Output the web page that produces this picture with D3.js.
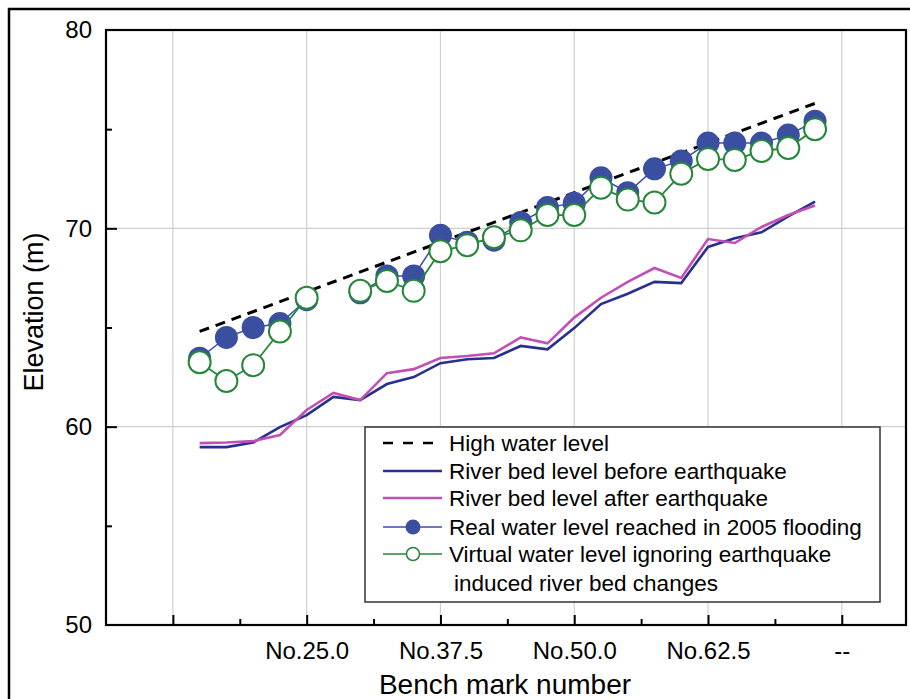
<!DOCTYPE html>
<meta charset="utf-8">
<style>
  body { margin: 0; background: #fff; }
  text { font-family: "Liberation Sans", Arial, sans-serif; fill: #000; }
  .grid line { stroke: #cfcfcf; stroke-width: 1.2px; }
</style>
<body>
<svg width="910" height="699"></svg>
<script src="https://d3js.org/d3.v7.min.js"></script>
<script>
    // bench mark positions (x) and values
    let bench = [15, 17.5, 20, 22.5, 25, 27.5, 30, 32.5, 35, 37.5, 40, 42.5, 45, 47.5, 50,
                 52.5, 55, 57.5, 60, 62.5, 65, 67.5, 70, 72.5];
    let bedBefore = [58.97, 58.97, 59.2, 59.98, 60.58, 61.5, 61.34, 62.15, 62.5, 63.2, 63.4, 63.46, 64.07,
                     63.9, 64.97, 66.18, 66.7, 67.3, 67.24, 69.06, 69.5, 69.8, 70.6, 71.35];
    let bedAfter = [59.17, 59.2, 59.27, 59.58, 60.84, 61.7, 61.34, 62.7, 62.9, 63.46, 63.56, 63.7, 64.5,
                    64.2, 65.5, 66.5, 67.3, 68.0, 67.5, 69.46, 69.26, 70.07, 70.67, 71.15];
    let realWater = [63.45, 64.5, 65.0, 65.2, 66.4, null, 66.75, 67.6, 67.6, 69.65, 69.3, 69.4, 70.3,
                     71.05, 71.27, 72.55, 71.8, 73.0, 73.4, 74.3, 74.3, 74.3, 74.7, 75.4];
    let virtualWater = [63.25, 62.3, 63.1, 64.8, 66.5, null, 66.85, 67.35, 66.85, 68.85, 69.15, 69.55, 69.9,
                        70.67, 70.67, 72.05, 71.45, 71.3, 72.75, 73.5, 73.45, 73.9, 74.05, 75.0];
    let highWaterX = [15, 72.5];
    let highWaterY = [64.8, 76.3];

    let xMajor = [12.5, 25, 37.5, 50, 62.5, 75];
    let xLabels = ["", "No.25.0", "No.37.5", "No.50.0", "No.62.5", "--"];
    let xMinor = [18.75, 31.25, 43.75, 56.25, 68.75];
    let yMajor = [50, 60, 70, 80];
    let yMinor = [55, 65, 75];

    let BLUE = "#3b4fa1";
    let GREEN = "#26873a";
    let NAVY = "#27308f";
    let MAGENTA = "#c24fb3";

    var svg = d3.select("svg");
    var L = 106, T = 30, R = 906, B = 625;

    var x = d3.scaleLinear().domain([6.25, 81]).range([L, R]);
    var y = d3.scaleLinear().domain([50, 80]).range([B, T]);

    // outer frame of the figure
    svg.append("rect")
        .attr("x", 9).attr("y", 9).attr("width", 920).attr("height", 720)
        .attr("fill", "none").attr("stroke", "#000").attr("stroke-width", 2.5);

    // grid
    var grid = svg.append("g").attr("class", "grid");
    grid.selectAll(".gx").data(xMajor).enter().append("line")
        .attr("x1", d => x(d)).attr("x2", d => x(d)).attr("y1", T).attr("y2", B);
    grid.selectAll(".gy").data([60, 70]).enter().append("line")
        .attr("x1", L).attr("x2", R).attr("y1", d => y(d)).attr("y2", d => y(d));

    // river bed lines
    var bedLine = d3.line().x((d, i) => x(bench[i])).y(d => y(d));
    svg.append("path").datum(bedBefore).attr("d", bedLine)
        .attr("fill", "none").attr("stroke", NAVY).attr("stroke-width", 2.6);
    svg.append("path").datum(bedAfter).attr("d", bedLine)
        .attr("fill", "none").attr("stroke", MAGENTA).attr("stroke-width", 2.6);

    // high water level
    svg.append("path").datum(highWaterY)
        .attr("d", d3.line().x((d, i) => x(highWaterX[i])).y(d => y(d)))
        .attr("fill", "none").attr("stroke", "#000").attr("stroke-width", 3)
        .attr("stroke-dasharray", "10,7");

    // water level series
    var waterLine = d3.line().defined(d => d != null).x((d, i) => x(bench[i])).y(d => y(d));
    svg.append("path").datum(realWater).attr("d", waterLine)
        .attr("fill", "none").attr("stroke", BLUE).attr("stroke-width", 1.5);
    svg.append("g").selectAll("circle")
        .data(realWater.map((v, i) => [bench[i], v]).filter(d => d[1] != null))
        .enter().append("circle")
        .attr("cx", d => x(d[0])).attr("cy", d => y(d[1])).attr("r", 11.5)
        .attr("fill", BLUE);

    svg.append("path").datum(virtualWater).attr("d", waterLine)
        .attr("fill", "none").attr("stroke", GREEN).attr("stroke-width", 1.8);
    svg.append("g").selectAll("circle")
        .data(virtualWater.map((v, i) => [bench[i], v]).filter(d => d[1] != null))
        .enter().append("circle")
        .attr("cx", d => x(d[0])).attr("cy", d => y(d[1])).attr("r", 11)
        .attr("fill", "#fff").attr("stroke", GREEN).attr("stroke-width", 2);

    // axes
    var xAxis = svg.append("g").attr("transform", `translate(0,${B})`)
        .call(d3.axisBottom(x).tickValues(xMajor).tickSize(-10).tickPadding(17)
            .tickFormat((d, i) => xLabels[i]));
    svg.append("g").attr("transform", `translate(0,${B})`)
        .call(d3.axisBottom(x).tickValues(xMinor).tickSize(-6).tickFormat(""));
    var yAxis = svg.append("g").attr("transform", `translate(${L},0)`)
        .call(d3.axisLeft(y).tickValues(yMajor).tickSize(-11).tickPadding(14));
    svg.append("g").attr("transform", `translate(${L},0)`)
        .call(d3.axisLeft(y).tickValues(yMinor).tickSize(-6).tickFormat(""));
    svg.selectAll(".domain").remove();
    svg.selectAll(".tick line").attr("stroke", "#000").attr("stroke-width", 2);
    xAxis.selectAll("text").style("font-size", "24px")
        .style("font-family", "'Liberation Sans', Arial, sans-serif");
    yAxis.selectAll("text").style("font-size", "24px")
        .style("font-family", "'Liberation Sans', Arial, sans-serif");
    yAxis.selectAll(".tick").filter(d => d == 50 || d == 80).select("line").remove();

    // plot frame
    svg.append("rect")
        .attr("x", L).attr("y", T).attr("width", R - L).attr("height", B - T)
        .attr("fill", "none").attr("stroke", "#000").attr("stroke-width", 2.2);

    // axis titles
    svg.append("text").attr("x", 505).attr("y", 694).attr("text-anchor", "middle")
        .style("font-size", "28px").text("Bench mark number");
    svg.append("text").attr("transform", "translate(43,312) rotate(-90)")
        .attr("text-anchor", "middle").style("font-size", "27px").text("Elevation (m)");

    // legend
    var lg = svg.append("g");
    lg.append("rect").attr("x", 365).attr("y", 427).attr("width", 515).attr("height", 175)
        .attr("fill", "#fff").attr("stroke", "#333").attr("stroke-width", 1.5);
    let legendNames = ["High water level", "River bed level before earthquake",
        "River bed level after earthquake", "Real water level reached in 2005 flooding",
        "Virtual water level ignoring earthquake"];
    let legendRows = [443, 471, 498, 527, 554];
    legendNames.forEach(function(name, i) {
        var ry = legendRows[i];
        var ln = lg.append("line").attr("x1", 383).attr("x2", 442).attr("y1", ry).attr("y2", ry);
        if (i == 0) ln.attr("stroke", "#000").attr("stroke-width", 2.5).attr("stroke-dasharray", "10,10");
        if (i == 1) ln.attr("stroke", NAVY).attr("stroke-width", 2.3);
        if (i == 2) ln.attr("stroke", MAGENTA).attr("stroke-width", 2.3);
        if (i == 3) {
            ln.attr("stroke", BLUE).attr("stroke-width", 1.5);
            lg.append("circle").attr("cx", 413).attr("cy", ry).attr("r", 7.5).attr("fill", BLUE);
        }
        if (i == 4) {
            ln.attr("stroke", GREEN).attr("stroke-width", 1.5);
            lg.append("circle").attr("cx", 413).attr("cy", ry).attr("r", 6.5)
                .attr("fill", "#fff").attr("stroke", GREEN).attr("stroke-width", 1.5);
        }
        lg.append("text").attr("x", 449).attr("y", ry).attr("dy", "0.36em")
            .style("font-size", "22.5px").text(name);
    });
    lg.append("text").attr("x", 454).attr("y", 583).attr("dy", "0.36em")
        .style("font-size", "22.5px").text("induced river bed changes");
</script>
</body>
